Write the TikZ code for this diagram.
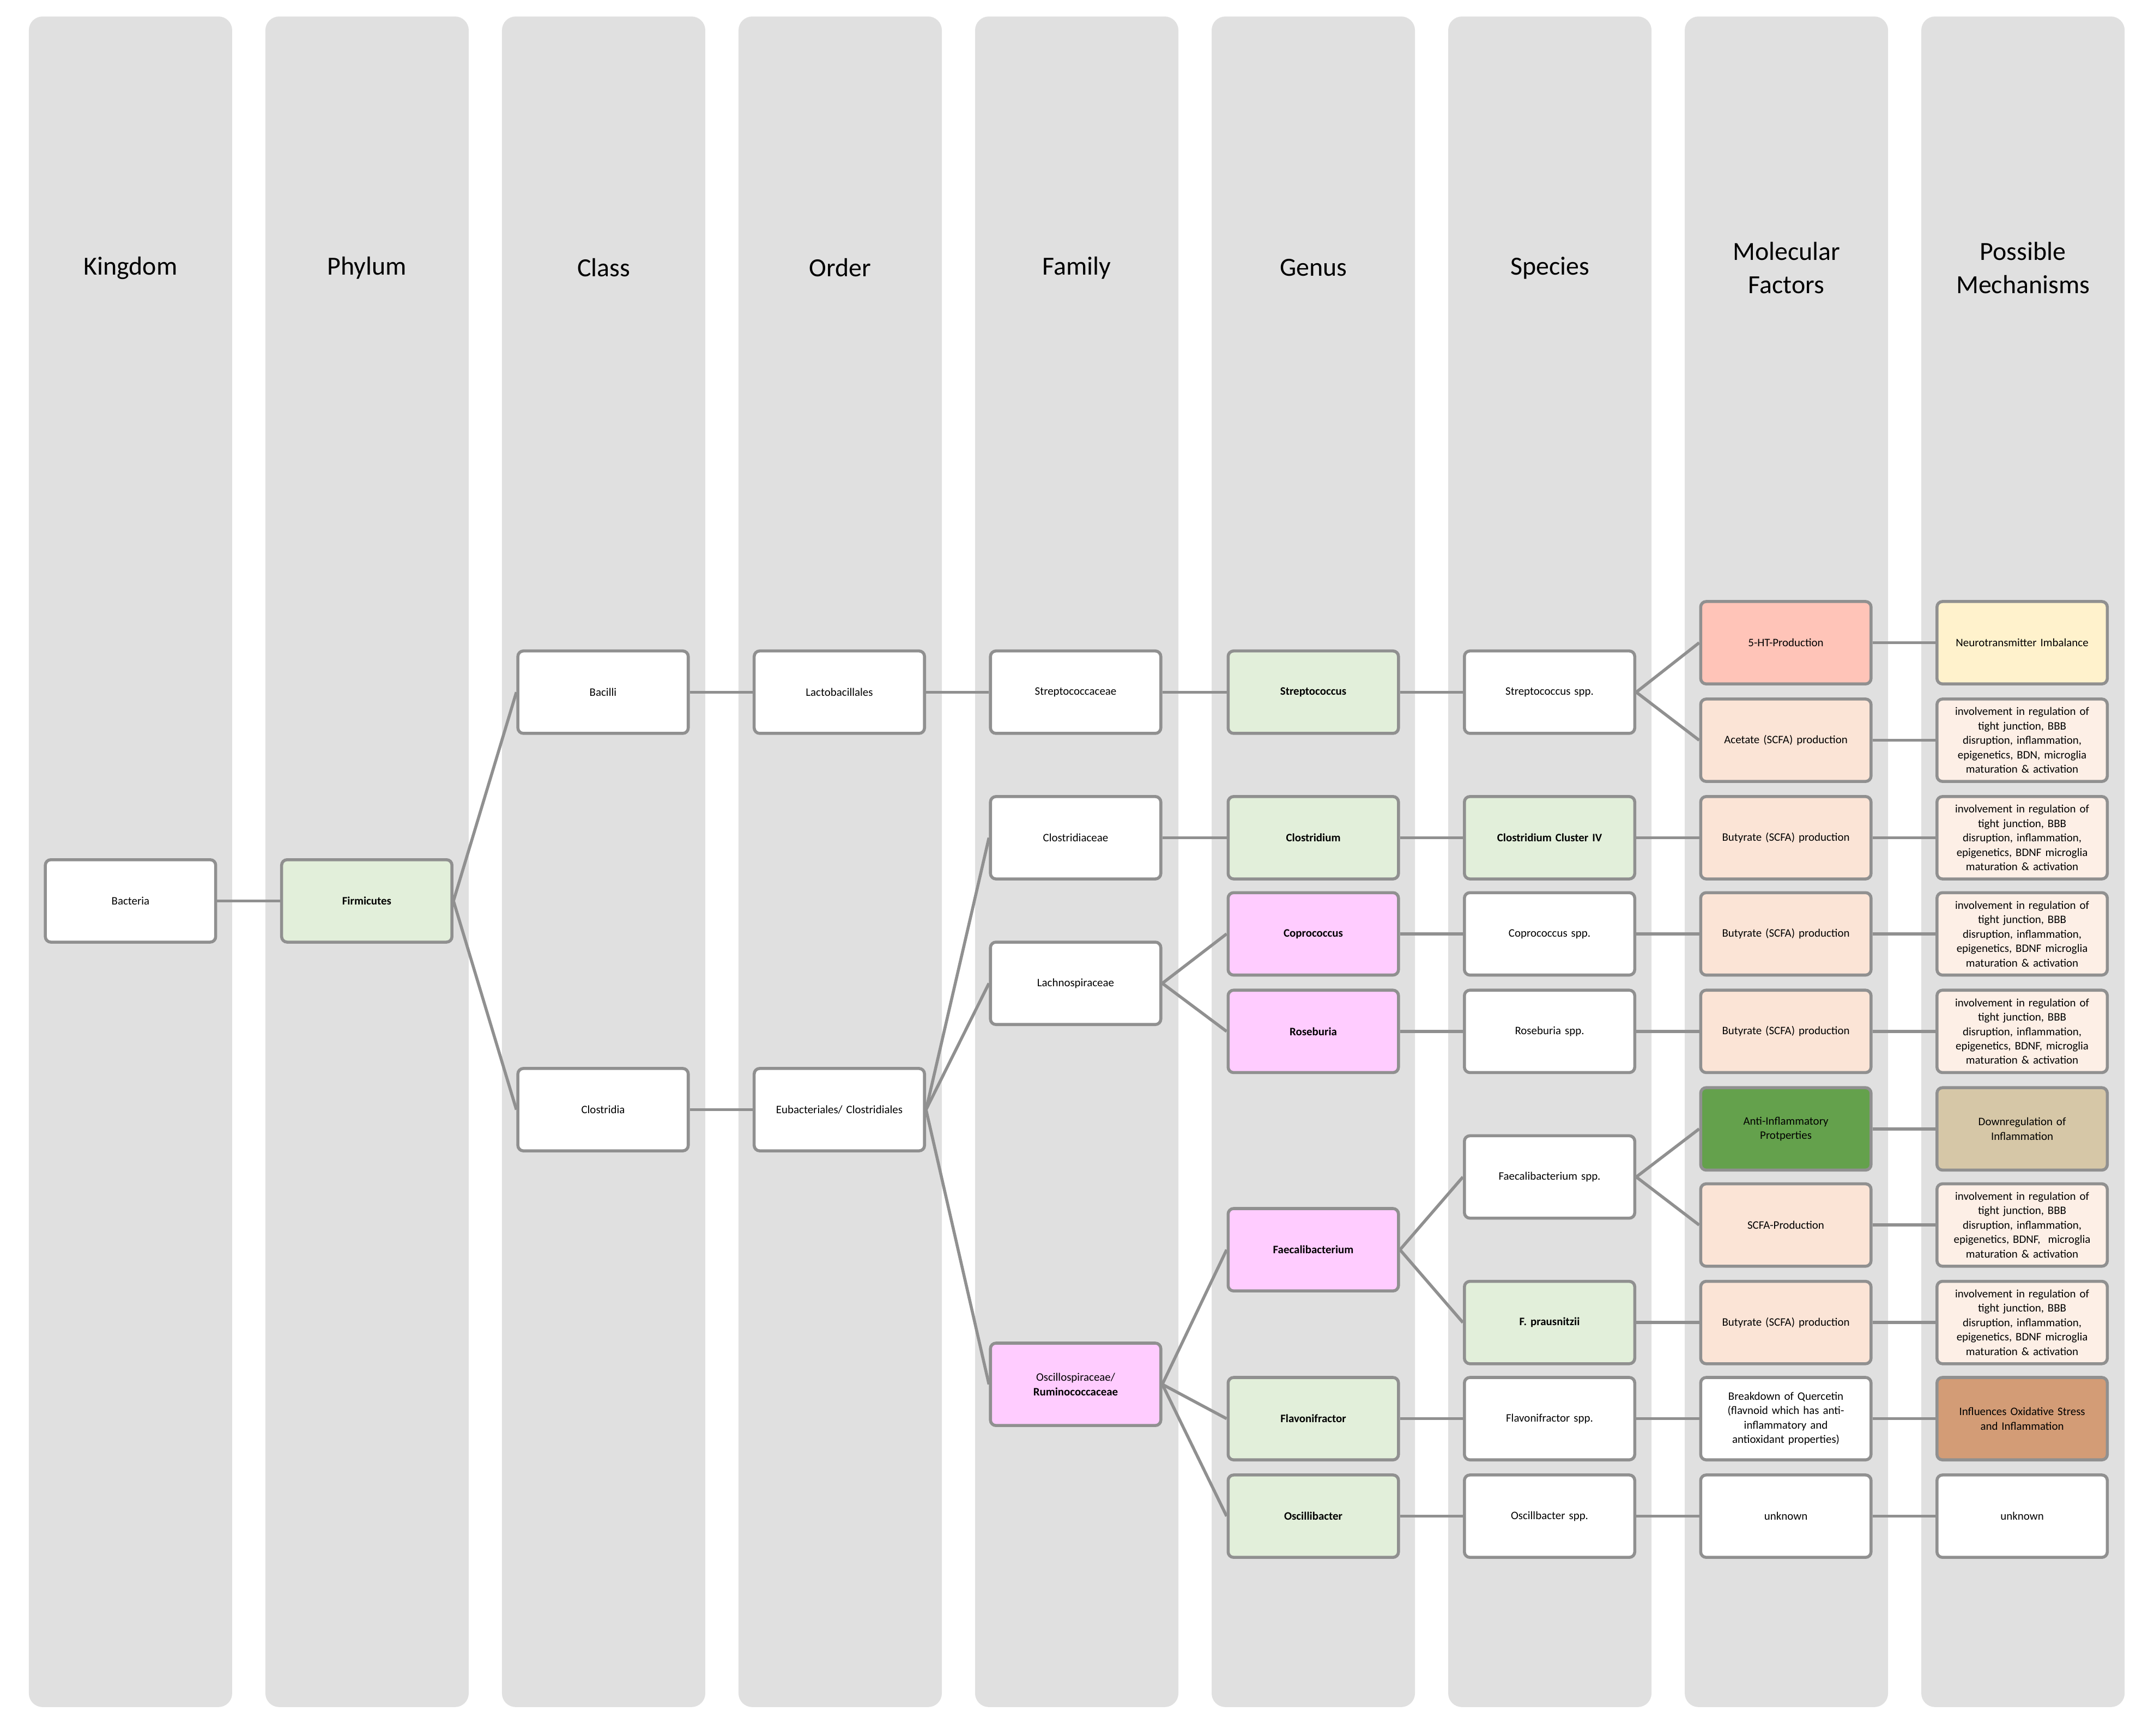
\documentclass[tikz,border=0pt]{standalone}
\usepackage{fontspec}
\setmainfont{Carlito}
\usetikzlibrary{positioning}
\definecolor{band}{HTML}{E0E0E0}
\definecolor{edge}{HTML}{909090}
\definecolor{lgreen}{HTML}{E2EFDA}
\definecolor{lpink}{HTML}{FFCCFF}
\definecolor{salmon}{HTML}{FFC4B8}
\definecolor{peach}{HTML}{FBE4D6}
\definecolor{pale}{HTML}{FDEFE6}
\definecolor{lyellow}{HTML}{FFF2CC}
\definecolor{dgreen}{HTML}{64A14C}
\definecolor{tan}{HTML}{D6C7A7}
\definecolor{brown}{HTML}{D39C76}

\begin{document}
\begin{tikzpicture}[x=1pt, y=-1pt,
  box/.style={rectangle,draw=edge,line width=2.2pt,rounded corners=4pt,fill=white,minimum width=124pt,minimum height=60pt,text width=118pt,inner sep=1pt,align=center,font=\fontsize{8.3}{10.5}\selectfont},
  line/.style={draw=edge,line width=2.2pt},
  head/.style={align=center,font=\fontsize{19}{24}\selectfont}]
\useasboundingbox (0,0) rectangle (1568,1264);
% columns
\foreach \t [count=\i from 0] in {Kingdom,Phylum,Class,Order,Family,Genus,Species,Molecular\\Factors,Possible\\Mechanisms}{
  \fill[band,rounded corners=10pt] (21+172.2*\i,12) rectangle ++(148,1231);
  \node[head] (h\i) at (95+172.2*\i,195) {\t};
}
% nodes
\node[box] (bact) at (95,656) {Bacteria};
\node[box,fill=lgreen] (firm) at (267,656) {\textbf{Firmicutes}};
\node[box] (bacilli) at (439,504) {Bacilli};
\node[box] (clostria) at (439,808) {Clostridia};
\node[box] (lacto) at (611,504) {Lactobacillales};
\node[box] (eubact) at (611,808) {Eubacteriales/ Clostridiales};
\node[box] (strepfam) at (783,504) {Streptococcaceae};
\node[box] (clostfam) at (783,610) {Clostridiaceae};
\node[box] (lachno) at (783,716) {Lachnospiraceae};
\node[box,fill=lpink] (oscfam) at (783,1008) {Oscillospiraceae/\\\textbf{Ruminococcaceae}};
\node[box,fill=lgreen] (strep) at (956,504) {\textbf{Streptococcus}};
\node[box,fill=lgreen] (clost) at (956,610) {\textbf{Clostridium}};
\node[box,fill=lpink] (copro) at (956,680) {\textbf{Coprococcus}};
\node[box,fill=lpink] (rose) at (956,751) {\textbf{Roseburia}};
\node[box,fill=lpink] (faec) at (956,910) {\textbf{Faecalibacterium}};
\node[box,fill=lgreen] (flavo) at (956,1033) {\textbf{Flavonifractor}};
\node[box,fill=lgreen] (oscil) at (956,1104) {\textbf{Oscillibacter}};
\node[box] (strepspp) at (1128,504) {Streptococcus spp.};
\node[box,fill=lgreen] (cluster) at (1128,610) {\textbf{Clostridium Cluster IV}};
\node[box] (coprospp) at (1128,680) {Coprococcus spp.};
\node[box] (rosespp) at (1128,751) {Roseburia spp.};
\node[box] (faecspp) at (1128,857) {Faecalibacterium spp.};
\node[box,fill=lgreen] (praus) at (1128,963) {\textbf{F. prausnitzii}};
\node[box] (flavospp) at (1128,1033) {Flavonifractor spp.};
\node[box] (oscilspp) at (1128,1104) {Oscillbacter spp.};
\node[box,fill=salmon] (ht) at (1300,468) {5-HT-Production};
\node[box,fill=peach] (acet) at (1300,539) {Acetate (SCFA) production};
\node[box,fill=peach] (buta) at (1300,610) {Butyrate (SCFA) production};
\node[box,fill=peach] (butb) at (1300,680) {Butyrate (SCFA) production};
\node[box,fill=peach] (butc) at (1300,751) {Butyrate (SCFA) production};
\node[box,fill=dgreen] (antiinf) at (1300,822) {Anti-Inflammatory\\Protperties};
\node[box,fill=peach] (scfa) at (1300,892) {SCFA-Production};
\node[box,fill=peach] (butd) at (1300,963) {Butyrate (SCFA) production};
\node[box] (querc) at (1300,1033) {Breakdown of Quercetin\\(flavnoid which has anti-\\inflammatory and\\antioxidant properties)};
\node[box] (unka) at (1300,1104) {unknown};
\node[box,fill=lyellow] (neuro) at (1472,468) {Neurotransmitter Imbalance};
\node[box,fill=pale] (mecha) at (1472,539) {involvement in regulation of\\tight junction, BBB\\disruption, inflammation,\\epigenetics, BDN, microglia\\maturation \& activation};
\node[box,fill=pale] (mechb) at (1472,610) {involvement in regulation of\\tight junction, BBB\\disruption, inflammation,\\epigenetics, BDNF microglia\\maturation \& activation};
\node[box,fill=pale] (mechc) at (1472,680) {involvement in regulation of\\tight junction, BBB\\disruption, inflammation,\\epigenetics, BDNF microglia\\maturation \& activation};
\node[box,fill=pale] (mechd) at (1472,751) {involvement in regulation of\\tight junction, BBB\\disruption, inflammation,\\epigenetics, BDNF, microglia\\maturation \& activation};
\node[box,fill=tan] (down) at (1472,822) {Downregulation of\\Inflammation};
\node[box,fill=pale] (meche) at (1472,892) {involvement in regulation of\\tight junction, BBB\\disruption, inflammation,\\epigenetics, BDNF,~ microglia\\maturation \& activation};
\node[box,fill=pale] (mechf) at (1472,963) {involvement in regulation of\\tight junction, BBB\\disruption, inflammation,\\epigenetics, BDNF microglia\\maturation \& activation};
\node[box,fill=brown] (oxid) at (1472,1033) {Influences Oxidative Stress\\and Inflammation};
\node[box] (unkb) at (1472,1104) {unknown};
% connectors
\begin{scope}[on background layer/.style={}]
\foreach \a/\b in {bact/firm,firm/bacilli,firm/clostria,bacilli/lacto,clostria/eubact,lacto/strepfam,
  eubact/clostfam,eubact/lachno,eubact/oscfam,strepfam/strep,clostfam/clost,lachno/copro,lachno/rose,
  oscfam/faec,oscfam/flavo,oscfam/oscil,strep/strepspp,clost/cluster,copro/coprospp,rose/rosespp,
  faec/faecspp,faec/praus,flavo/flavospp,oscil/oscilspp,strepspp/ht,strepspp/acet,cluster/buta,
  coprospp/butb,rosespp/butc,faecspp/antiinf,faecspp/scfa,praus/butd,flavospp/querc,oscilspp/unka,
  ht/neuro,acet/mecha,buta/mechb,butb/mechc,butc/mechd,antiinf/down,scfa/meche,butd/mechf,querc/oxid,unka/unkb}
  \draw[line] (\a.east) -- (\b.west);
\end{scope}
\end{tikzpicture}
\end{document}
